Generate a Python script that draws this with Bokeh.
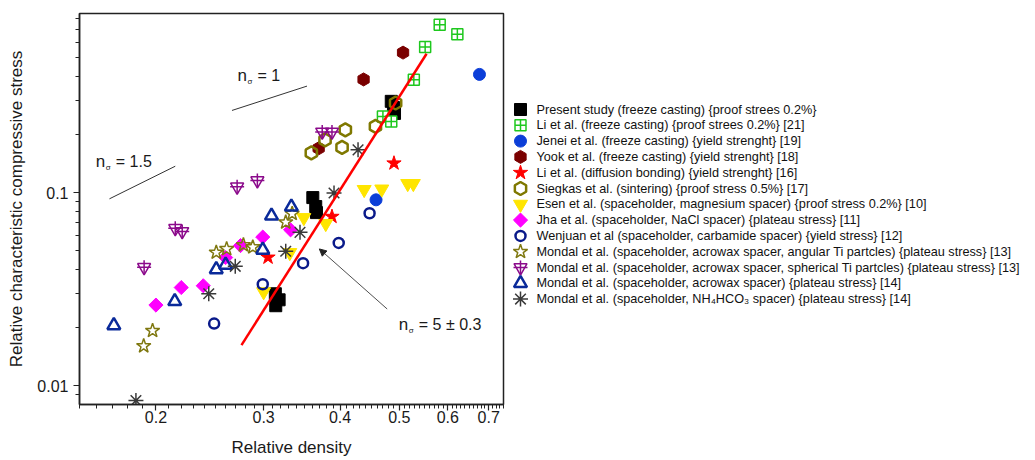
from bokeh.plotting import figure
from bokeh.models import Range1d, FixedTicker, Arrow, NormalHead, CustomJSTickFormatter
from bokeh.layouts import row
from bokeh.embed import file_html
from bokeh.resources import INLINE
from bokeh.core.properties import value

FONT = "Liberation Sans"

# ---------------- data (relative density, relative stress) ----------------
present_x = [0.485, 0.489, 0.491, 0.361, 0.365, 0.366, 0.3135, 0.318, 0.314]
present_y = [0.298, 0.277, 0.258, 0.0945, 0.0849, 0.079, 0.030, 0.0279, 0.026]

li_fc_x = [0.582, 0.622, 0.551, 0.528, 0.470, 0.485]
li_fc_y = [0.744, 0.663, 0.570, 0.386, 0.249, 0.234]

jenei_x = [0.676, 0.458]
jenei_y = [0.411, 0.092]

yook_x = [0.507, 0.437, 0.369]
yook_y = [0.533, 0.387, 0.170]

li_db_x = [0.490, 0.388, 0.305]
li_db_y = [0.1424, 0.0753, 0.0463]

siegkas_x = [0.493, 0.457, 0.408, 0.378, 0.403, 0.359]
siegkas_y = [0.292, 0.221, 0.212, 0.188, 0.172, 0.161]

esen_x = [0.527, 0.516, 0.468, 0.438, 0.379, 0.349, 0.331, 0.300]
esen_y = [0.1117, 0.1117, 0.1046, 0.104, 0.0693, 0.0744, 0.049, 0.0307]

jha_x = [0.332, 0.299, 0.275, 0.260, 0.239, 0.220, 0.200]
jha_y = [0.0643, 0.059, 0.0533, 0.0462, 0.033, 0.0323, 0.0262]

wenjuan_x = [0.447, 0.398, 0.348, 0.299, 0.249]
wenjuan_y = [0.0784, 0.055, 0.0432, 0.0336, 0.021]

mondal_ang_x = [0.191, 0.1975, 0.251, 0.261, 0.278, 0.288, 0.326, 0.334]
mondal_ang_y = [0.01607, 0.0193, 0.0491, 0.0512, 0.0536, 0.0523, 0.0704, 0.078]

mondal_sph_x = [0.374, 0.388, 0.293, 0.2715, 0.2151, 0.2208, 0.1913]
mondal_sph_y = [0.2068, 0.2068, 0.1158, 0.1074, 0.0655, 0.0631, 0.0411]

mondal_acr_x = [0.333, 0.309, 0.299, 0.260, 0.251, 0.2147, 0.1707]
mondal_acr_y = [0.0846, 0.076, 0.0506, 0.0423, 0.0401, 0.0274, 0.02056]

mondal_nh_x = [0.428, 0.391, 0.344, 0.326, 0.2696, 0.244, 0.1855]
mondal_nh_y = [0.167, 0.0998, 0.0624, 0.0498, 0.0416, 0.030, 0.00839]

# fit line (n_sigma = 5) and guide slopes
fit_x = [0.276, 0.554]
fit_y = [0.01626, 0.526]
slope1_x = [0.2663, 0.3532]
slope1_y = [0.2673, 0.3574]
slope15_x = [0.1679, 0.2151]
slope15_y = [0.0931, 0.1374]

# annotations
ann_x = [0.2718, 0.1595, 0.499]
ann_y = [0.406, 0.1453, 0.0209]
ann_rest = ["= 1", "= 1.5", "= 5 \u00b1 0.3"]
arrow_from = (0.4776, 0.0250)
arrow_to = (0.370, 0.0512)

# axes
x_ticks = [0.2, 0.3, 0.4, 0.5, 0.6, 0.7]
x_minor = [0.15, 0.16, 0.17, 0.18, 0.19, 0.21, 0.22, 0.23, 0.24, 0.25, 0.26, 0.27, 0.28, 0.29,
           0.31, 0.32, 0.33, 0.34, 0.35, 0.36, 0.37, 0.38, 0.39, 0.41, 0.42, 0.43, 0.44, 0.45,
           0.46, 0.47, 0.48, 0.49, 0.51, 0.52, 0.53, 0.54, 0.55, 0.56, 0.57, 0.58, 0.59, 0.61,
           0.62, 0.63, 0.64, 0.65, 0.66, 0.67, 0.68, 0.69, 0.71, 0.72, 0.73, 0.74]
y_ticks = [0.01, 0.1]
y_minor = [0.009, 0.02, 0.03, 0.04, 0.05, 0.06, 0.07, 0.08, 0.09, 0.2, 0.3, 0.4, 0.5, 0.6, 0.7, 0.8]

legend_labels = [
    "Present study (freeze casting) {proof strees 0.2%}",
    "Li et al. (freeze casting) {proof strees 0.2%} [21]",
    "Jenei et al. (freeze casting) {yield strenght} [19]",
    "Yook et al. (freeze casting) {yield strenght} [18]",
    "Li et al. (diffusion bonding) {yield strenght} [16]",
    "Siegkas et al. (sintering) {proof stress 0.5%} [17]",
    "Esen et al. (spaceholder, magnesium spacer) {proof stress 0.2%} [10]",
    "Jha et al. (spaceholder, NaCl spacer) {plateau stress} [11]",
    "Wenjuan et al (spaceholder, carbamide spacer) {yield stress} [12]",
    "Mondal et al. (spaceholder, acrowax spacer, angular Ti partcles) {plateau stress} [13]",
    "Mondal et al. (spaceholder, acrowax spacer, spherical Ti partcles) {plateau stress} [13]",
    "Mondal et al. (spaceholder, acrowax spacer) {plateau stress} [14]",
    "Mondal et al. (spaceholder, NH\u2084HCO\u2083 spacer) {plateau stress} [14]",
]

series = [
    (present_x, present_y, [dict(marker="square", size=12, fill_color="black", line_color="black", line_width=1)]),
    (li_fc_x, li_fc_y, [dict(marker="square_cross", size=11, fill_color="white", line_color="#1ec81e", line_width=1.5)]),
    (jenei_x, jenei_y, [dict(marker="circle", size=12, fill_color="#0b3ed8", line_color="#0b3ed8", line_width=1)]),
    (yook_x, yook_y, [dict(marker="hex", size=13, angle=0.5236, fill_color="#7a0000", line_color="#7a0000", line_width=1)]),
    (li_db_x, li_db_y, [dict(marker="star", size=15, fill_color="#ff0000", line_color="#ff0000", line_width=1)]),
    (siegkas_x, siegkas_y, [dict(marker="hex", size=13, angle=0.5236, fill_alpha=0, line_color="#7f7800", line_width=2.5)]),
    (esen_x, esen_y, [dict(marker="inverted_triangle", size=14, fill_color="#ffe500", line_color="#ffe500", line_width=1)]),
    (jha_x, jha_y, [dict(marker="square", size=10, angle=0.7854, fill_color="#ff00ff", line_color="#ff00ff", line_width=1)]),
    (wenjuan_x, wenjuan_y, [dict(marker="circle", size=10, fill_alpha=0, line_color="#0a1a8a", line_width=2.5)]),
    (mondal_ang_x, mondal_ang_y, [dict(marker="star", size=15, fill_alpha=0, line_color="#7f7810", line_width=1.5)]),
    (mondal_sph_x, mondal_sph_y, [dict(marker="inverted_triangle", size=13, fill_alpha=0, line_color="#8b0a8b", line_width=1.5),
                                  dict(marker="cross", size=14, line_color="#8b0a8b", line_width=1.5)]),
    (mondal_acr_x, mondal_acr_y, [dict(marker="triangle", size=13, fill_alpha=0, line_color="#0a2a9a", line_width=2.5)]),
    (mondal_nh_x, mondal_nh_y, [dict(marker="asterisk", size=15, line_color="#3a3a3a", line_width=1.5)]),
]

TOP, BOTTOM = 13, 56
H = 460

# ---------------- main plot ----------------
p = figure(width=505, height=H, x_axis_type="log", y_axis_type="log",
           x_range=Range1d(0.15, 0.74), y_range=Range1d(0.008, 0.85),
           output_backend="svg", toolbar_location=None,
           min_border_left=79, min_border_right=2, min_border_top=TOP, min_border_bottom=BOTTOM)
p.background_fill_color = "white"
p.border_fill_color = "white"
p.xgrid.grid_line_color = None
p.ygrid.grid_line_color = None
p.outline_line_color = "#222222"
p.outline_line_width = 1.5

fmt = CustomJSTickFormatter(code="return String(parseFloat(tick.toPrecision(6)))")
p.xaxis.ticker = FixedTicker(ticks=x_ticks, minor_ticks=x_minor)
p.yaxis.ticker = FixedTicker(ticks=y_ticks, minor_ticks=y_minor)
p.xaxis.formatter = fmt
p.yaxis.formatter = fmt
for ax in (p.xaxis[0], p.yaxis[0]):
    ax.axis_line_color = "#222222"
    ax.axis_line_width = 1.5
    ax.major_tick_line_color = "#222222"
    ax.minor_tick_line_color = "#222222"
    ax.major_tick_line_width = 1.2
    ax.minor_tick_line_width = 1
    ax.major_tick_in = 0
    ax.major_tick_out = 6
    ax.minor_tick_in = 0
    ax.minor_tick_out = 4
    ax.major_label_text_font = FONT
    ax.major_label_text_font_size = "16px"
    ax.major_label_text_color = "#1a1a1a"
    ax.axis_label_text_font = FONT
    ax.axis_label_text_font_size = "17px"
    ax.axis_label_text_font_style = "normal"
    ax.axis_label_text_color = "#1a1a1a"
p.xaxis.axis_label = "Relative density"
p.yaxis.axis_label = "Relative characteristic compressive stress"
p.xaxis.major_label_standoff = 0
p.xaxis.axis_label_standoff = 12
p.yaxis.major_label_standoff = 5
p.yaxis.axis_label_standoff = 8

p.line(slope1_x, slope1_y, line_color="#333333", line_width=1)
p.line(slope15_x, slope15_y, line_color="#333333", line_width=1)

for xs, ys, styles in series:
    for st in styles:
        p.scatter(xs, ys, **st)

p.line(fit_x, fit_y, line_color="#ff0000", line_width=2.5)

p.add_layout(Arrow(end=NormalHead(size=7, fill_color="#222222", line_color="#222222", line_width=1),
                   x_start=arrow_from[0], y_start=arrow_from[1], x_end=arrow_to[0], y_end=arrow_to[1],
                   line_color="#222222", line_width=0.8))

p.text(x=ann_x, y=ann_y, text=["n"] * len(ann_x), text_font=value(FONT), text_font_size="17px",
       text_color="#1a1a1a", text_baseline="alphabetic", text_align="left")
p.text(x=ann_x, y=ann_y, text=["\u03c3"] * len(ann_x), text_font=value(FONT), text_font_size="8px",
       text_color="#1a1a1a", text_baseline="alphabetic", text_align="left", x_offset=10, y_offset=6)
p.text(x=ann_x, y=ann_y, text=ann_rest, text_font=value(FONT), text_font_size="16px",
       text_color="#1a1a1a", text_baseline="alphabetic", text_align="left", x_offset=20)

# ---------------- legend panel (screen-like pixel coordinates) ----------------
LW = 530
lg = figure(width=LW, height=H, x_range=Range1d(0, LW), y_range=Range1d(H - BOTTOM, TOP),
            output_backend="svg", toolbar_location=None,
            min_border_left=0, min_border_right=0, min_border_top=TOP, min_border_bottom=BOTTOM,
            x_axis_location=None, y_axis_location=None)
lg.grid.visible = False
lg.outline_line_color = None
lg.background_fill_color = "white"
lg.border_fill_color = "white"

leg_marker_x = 15
leg_text_x = 31
leg_y0 = 109
leg_dy = 15.8
for i, ((xs, ys, styles), lab) in enumerate(zip(series, legend_labels)):
    yy = leg_y0 + leg_dy * i
    for st in styles:
        lg.scatter([leg_marker_x], [yy], **st)
    lg.text(x=[leg_text_x], y=[yy], text=[lab], text_font=value(FONT), text_font_size="12.7px",
            text_color="#111111", text_baseline="middle", text_align="left")

layout = row(p, lg, spacing=0)
open("out.html", "w").write(file_html(layout, INLINE))
